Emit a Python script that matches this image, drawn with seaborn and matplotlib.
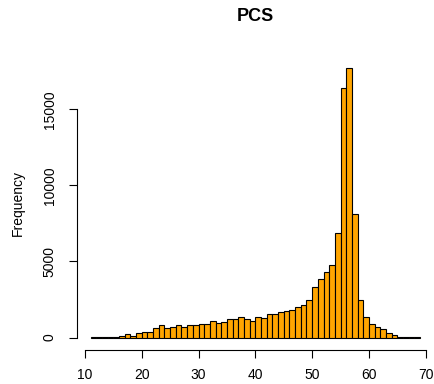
import numpy as np
import pandas as pd
import matplotlib
matplotlib.use("Agg")
import matplotlib.pyplot as plt
import seaborn as sns

# Unit-width bins from 11 to 69 and their counts
bin_start = list(range(11, 69))
counts = [
    10, 40, 40, 45, 50, 110, 200, 130, 270, 370,
    370, 600, 810, 640, 710, 800, 720, 810, 850, 920,
    920, 1110, 980, 1040, 1210, 1210, 1330, 1230, 1110, 1340,
    1260, 1550, 1550, 1660, 1770, 1780, 2000, 2130, 2500, 3310,
    3860, 4300, 4740, 6900, 16400, 17700, 8150, 2460, 1370, 880,
    720, 590, 300, 150, 50, 50, 40, 10,
]
x_ticks = [10, 20, 30, 40, 50, 60, 70]
y_ticks = [0, 5000, 10000, 15000]

df = pd.DataFrame({"PCS": np.array(bin_start) + 0.5, "n": counts})

sns.set_style("white")
plt.rcParams["font.family"] = ["Liberation Sans", "DejaVu Sans"]
plt.rcParams["text.color"] = "black"
plt.rcParams["axes.labelcolor"] = "black"

fig = plt.figure(figsize=(4.35, 3.84), dpi=100)
ax = fig.add_axes([0.178, 0.093, 0.818, 0.757])

sns.histplot(data=df, x="PCS", weights="n", binwidth=1, binrange=(11, 69),
             color="#FFA500", edgecolor="black", linewidth=0.8,
             alpha=1, ax=ax)

ax.set_xlim(8.68, 71.32)
ax.set_ylim(-708, 18408)

for s in ["top", "right"]:
    ax.spines[s].set_visible(False)
ax.spines["left"].set_bounds(0, 15000)
ax.spines["bottom"].set_bounds(10, 70)
ax.spines["bottom"].set_position(("outward", 1.5))
for s in ["left", "bottom"]:
    ax.spines[s].set_color("black")
    ax.spines[s].set_linewidth(0.8)

ax.set_xticks(x_ticks)
ax.set_yticks(y_ticks)
ax.set_yticklabels([str(v) for v in y_ticks], rotation=90, va="center")
ax.tick_params(axis="both", direction="out", length=6, width=0.8,
               colors="black", labelsize=10, left=True, bottom=True)
ax.tick_params(axis="y", pad=9)
ax.tick_params(axis="x", pad=7)

ax.set_xlabel("")
ax.set_ylabel("Frequency", fontsize=10, labelpad=13)
ax.set_title("PCS", fontsize=13, fontweight="bold", pad=26)

fig.savefig("out.png", dpi=100)
